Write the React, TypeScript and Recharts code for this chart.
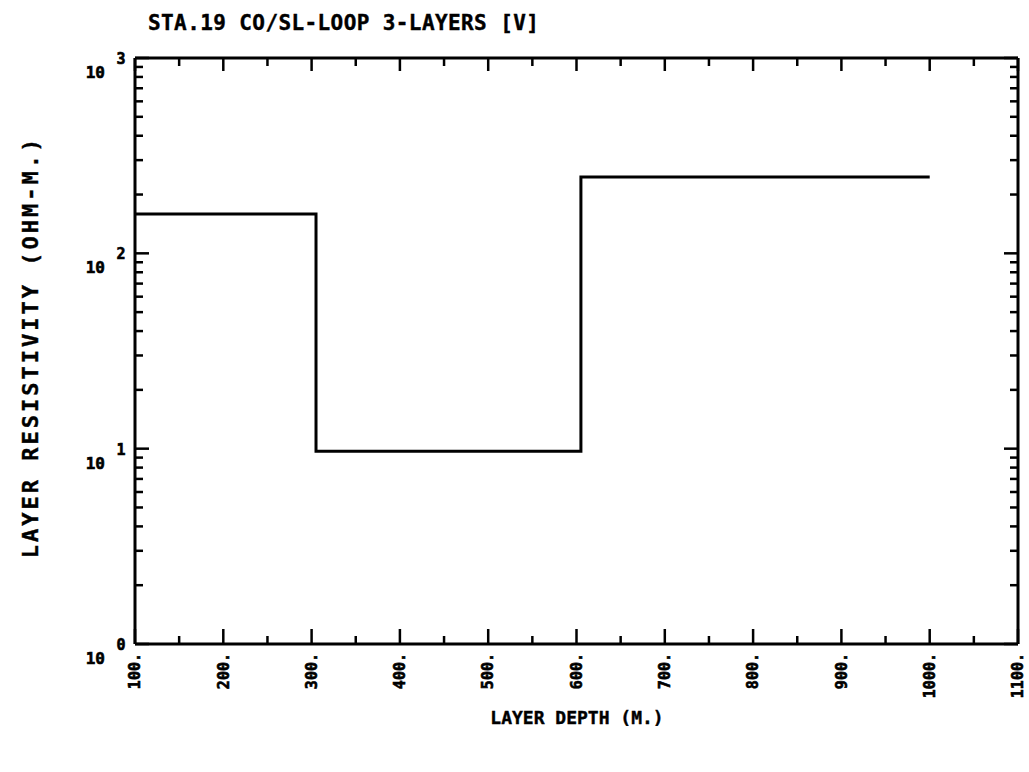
import React from 'react';
import { LineChart, Line, XAxis, YAxis } from 'recharts';

const depthBreaks = [100, 305, 605, 1000];
const resistivity = [159, 9.7, 246, 246];
const xMajorTicks = [100, 200, 300, 400, 500, 600, 700, 800, 900, 1000, 1100];
const xMinorTicks = [150, 250, 350, 450, 550, 650, 750, 850, 950, 1050];
const yDecades = [1, 10, 100, 1000];
const yMinorTicks = [2, 3, 4, 5, 6, 7, 8, 9, 20, 30, 40, 50, 60, 70, 80, 90, 200, 300, 400, 500, 600, 700, 800, 900];
const yExponents = ['0', '1', '2', '3'];

const titleText = 'STA.19 CO/SL-LOOP 3-LAYERS [V]';
const xTitle = 'LAYER DEPTH (M.)';
const yTitle = 'LAYER RESISTIVITY (OHM-M.)';

const data = depthBreaks.map((d, i) => ({ depth: d, rho: resistivity[i] }));
const allX = [...xMajorTicks, ...xMinorTicks].sort((a, b) => a - b);
const allY = [...yDecades, ...yMinorTicks].sort((a, b) => a - b);

const FONT = '"DejaVu Sans Mono", monospace';
const W = 1029;
const H = 772;
const M = { top: 57, right: 10, bottom: 127, left: 134 };

const isMajorX = (v: number) => xMajorTicks.includes(v);
const isDecade = (v: number) => yDecades.includes(v);

const BottomTick = (props: any) => {
  const { x, y, payload } = props;
  const v = payload.value;
  const major = isMajorX(v);
  return (
    <g>
      <line x1={x} y1={y} x2={x} y2={y - (major ? 15 : 8)} stroke="#000" strokeWidth={2.5} />
      {major && (
        <text
          x={x}
          y={y + 9}
          transform={`rotate(-90 ${x} ${y + 9})`}
          textAnchor="end"
          dy="0.35em"
          fontFamily={FONT}
          fontWeight="bold"
          fontSize={15}
          stroke="#000"
          strokeWidth={0.6}
          fill="#000"
        >{`${v}.`}</text>
      )}
    </g>
  );
};

const TopTick = (props: any) => {
  const { x, y, payload } = props;
  const major = isMajorX(payload.value);
  return <line x1={x} y1={y} x2={x} y2={y + (major ? 13 : 8)} stroke="#000" strokeWidth={2.5} />;
};

const LeftTick = (props: any) => {
  const { x, y, payload } = props;
  const v = payload.value;
  const dec = isDecade(v);
  const idx = yDecades.indexOf(v);
  return (
    <g>
      <line x1={x} y1={y} x2={x + (dec ? 14 : 8)} y2={y} stroke="#000" strokeWidth={2.5} />
      {dec && (
        <g>
          <text x={x - 30} y={y + 20} textAnchor="end" fontFamily={FONT} fontWeight="bold" fontSize={16} stroke="#000" strokeWidth={0.6} fill="#000">10</text>
          <text x={x - 14} y={y + 6} textAnchor="middle" fontFamily={FONT} fontWeight="bold" fontSize={15} stroke="#000" strokeWidth={0.6} fill="#000">{yExponents[idx]}</text>
        </g>
      )}
    </g>
  );
};

const RightTick = (props: any) => {
  const { x, y, payload } = props;
  const dec = isDecade(payload.value);
  return <line x1={x} y1={y} x2={x - (dec ? 14 : 8)} y2={y} stroke="#000" strokeWidth={2.5} />;
};

const axisLine = { stroke: '#000', strokeWidth: 3 };

export default function App() {
  return (
    <div style={{ position: 'absolute', left: 0, top: 0, width: W, height: H, background: '#fff' }}>
      <LineChart width={W} height={H} data={data} margin={M}>
        <XAxis
          dataKey="depth"
          type="number"
          domain={[100, 1100]}
          ticks={allX}
          interval={0}
          allowDataOverflow
          height={1}
          tickSize={0}
          tickMargin={0}
          tickLine={false}
          axisLine={axisLine}
          tick={BottomTick}
        />
        <XAxis
          xAxisId="top"
          orientation="top"
          dataKey="depth"
          type="number"
          domain={[100, 1100]}
          ticks={allX}
          interval={0}
          allowDataOverflow
          height={1}
          tickSize={0}
          tickMargin={0}
          tickLine={false}
          axisLine={axisLine}
          tick={TopTick}
        />
        <YAxis
          scale="log"
          type="number"
          domain={[1, 1000]}
          ticks={allY}
          interval={0}
          allowDataOverflow
          width={1}
          tickSize={0}
          tickMargin={0}
          tickLine={false}
          axisLine={axisLine}
          tick={LeftTick}
        />
        <YAxis
          yAxisId="right"
          orientation="right"
          scale="log"
          type="number"
          domain={[1, 1000]}
          ticks={allY}
          interval={0}
          allowDataOverflow
          width={1}
          tickSize={0}
          tickMargin={0}
          tickLine={false}
          axisLine={axisLine}
          tick={RightTick}
        />
        <Line
          type="stepAfter"
          dataKey="rho"
          stroke="#000"
          strokeWidth={3}
          dot={false}
          isAnimationActive={false}
        />
      </LineChart>
      <svg width={W} height={H} style={{ position: 'absolute', left: 0, top: 0, pointerEvents: 'none' }}>
        <text x={148} y={30} fontFamily={FONT} fontWeight="bold" fontSize={21} letterSpacing={0.4} stroke="#000" strokeWidth={0.4} fill="#000">{titleText}</text>
        <text x={577} y={724} textAnchor="middle" fontFamily={FONT} fontWeight="bold" fontSize={18} stroke="#000" strokeWidth={0.4} fill="#000">{xTitle}</text>
        <text
          x={30}
          y={347}
          transform="rotate(-90 30 347)"
          textAnchor="middle"
          dy="0.35em"
          fontFamily={FONT}
          fontWeight="bold"
          fontSize={22}
          letterSpacing={3}
          stroke="#000"
          strokeWidth={0.4}
          fill="#000"
        >{yTitle}</text>
      </svg>
    </div>
  );
}
